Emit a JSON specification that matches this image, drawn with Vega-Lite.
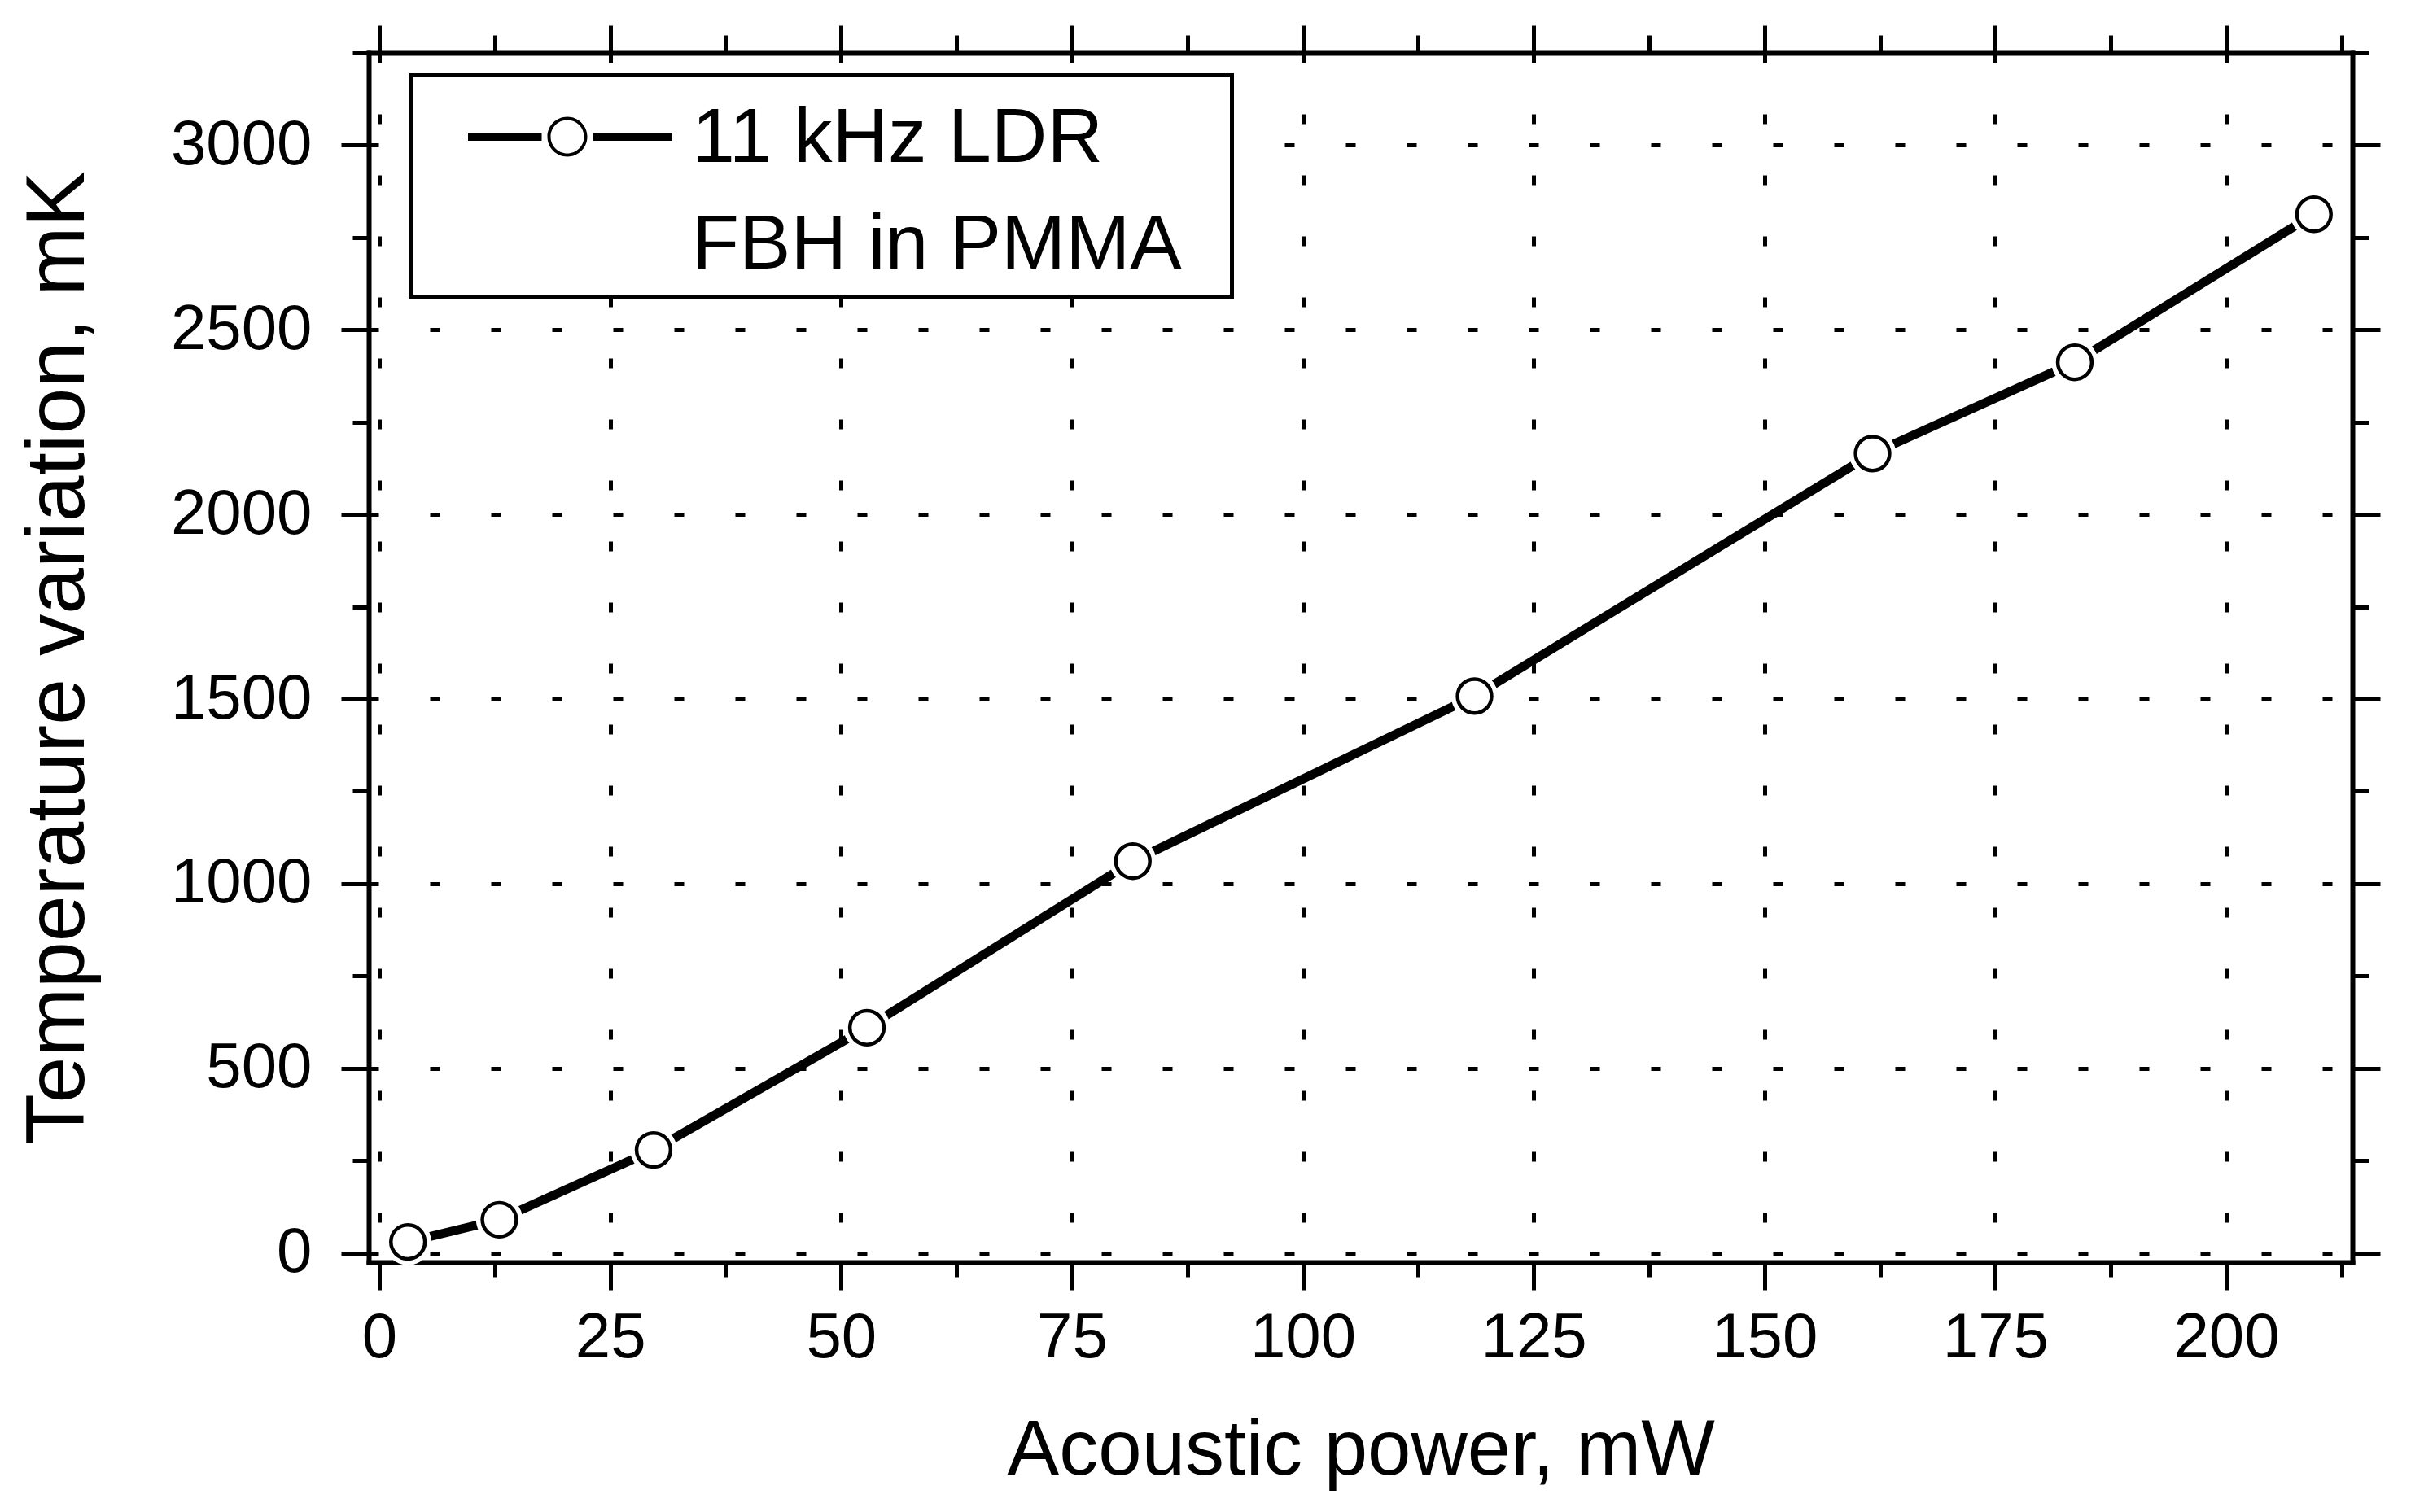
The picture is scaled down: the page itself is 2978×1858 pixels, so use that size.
{
  "$schema": "https://vega.github.io/schema/vega-lite/v6.json",
  "width": 2437,
  "height": 1486,
  "autosize": {"type": "none"},
  "padding": {"left": 453, "top": 65, "right": 88, "bottom": 307},
  "background": "white",
  "config": {
    "view": {"stroke": null},
    "axis": {
      "domainColor": "black", "domainWidth": 6, "domainCap": "square",
      "tickColor": "black", "tickWidth": 5,
      "labelFont": "Liberation Sans", "labelFontSize": 78, "labelColor": "black",
      "labelFlush": false, "labelOverlap": false,
      "titleFont": "Liberation Sans", "titleColor": "black", "titleFontWeight": "normal",
      "gridColor": "black", "gridWidth": 5, "gridDash": [12, 63],
      "zindex": 1
    }
  },
  "data": {
    "values": [
      {"power": 3.1, "temp": 30, "series": "11 kHz LDR"},
      {"power": 13.0, "temp": 90, "series": "11 kHz LDR"},
      {"power": 29.7, "temp": 279, "series": "11 kHz LDR"},
      {"power": 52.8, "temp": 610, "series": "11 kHz LDR"},
      {"power": 81.6, "temp": 1061, "series": "11 kHz LDR"},
      {"power": 118.6, "temp": 1508, "series": "11 kHz LDR"},
      {"power": 161.7, "temp": 2165, "series": "11 kHz LDR"},
      {"power": 183.6, "temp": 2412, "series": "11 kHz LDR"},
      {"power": 209.5, "temp": 2813, "series": "11 kHz LDR"}
    ]
  },
  "layer": [
    {
      "mark": {"type": "line", "strokeWidth": 11},
      "encoding": {
        "x": {
          "field": "power", "type": "quantitative",
          "scale": {"domain": [-1.146, 213.66], "nice": false, "zero": false},
          "axis": {
            "orient": "bottom",
            "values": [0, 12.5, 25, 37.5, 50, 62.5, 75, 87.5, 100, 112.5, 125, 137.5, 150, 162.5, 175, 187.5, 200, 212.5],
            "format": "d",
            "labelExpr": "datum.value % 25 === 0 ? datum.label : ''",
            "tickSize": {"condition": {"test": "datum.value % 25 !== 0", "value": 18}, "value": 34},
            "grid": true,
            "gridOpacity": {"condition": {"test": "datum.value % 25 !== 0", "value": 0}, "value": 1},
            "labelPadding": 20,
            "title": "Acoustic power, mW", "titleFontSize": 96, "titlePadding": 52
          }
        },
        "y": {
          "field": "temp", "type": "quantitative",
          "scale": {"domain": [-25, 3250], "nice": false, "zero": false},
          "axis": {
            "orient": "left",
            "values": [0, 250, 500, 750, 1000, 1250, 1500, 1750, 2000, 2250, 2500, 2750, 3000, 3250],
            "format": "d",
            "labelExpr": "datum.value % 500 === 0 ? datum.label : ''",
            "tickSize": {"condition": {"test": "datum.value % 500 !== 0", "value": 20}, "value": 34},
            "grid": true,
            "gridOpacity": {"condition": {"test": "datum.value % 500 !== 0", "value": 0}, "value": 1},
            "labelPadding": 36,
            "title": "Temperature variation, mK", "titleFontSize": 102, "titlePadding": 130
          }
        },
        "color": {
          "field": "series", "type": "nominal",
          "scale": {"range": ["black"]},
          "legend": {
            "orient": "none", "legendX": 52.5, "legendY": 27.5,
            "title": null, "padding": 0, "zindex": 2,
            "strokeColor": "black", "fillColor": "white",
            "symbolType": "M-1,-1M12.006,2.4968M-0.1032,-0.0903L1.0645,-0.0903L1.0645,0.0387L-0.1032,0.0387ZM1.8774,-0.0903L3.1355,-0.0903L3.1355,0.0387L1.8774,0.0387ZM1.7871,-0.0258A0.3161,0.3161,0,1,0,1.1549,-0.0258A0.3161,0.3161,0,1,0,1.7871,-0.0258ZM1.7355,-0.0258A0.2645,0.2645,0,1,1,1.2065,-0.0258A0.2645,0.2645,0,1,1,1.7355,-0.0258Z",
            "symbolSize": 24025,
            "symbolFillColor": "black", "symbolStrokeWidth": 0,
            "labelFont": "Liberation Sans", "labelFontSize": 95, "labelColor": "black",
            "labelLimit": 3000, "labelOffset": 189.5,
            "labelExpr": "['11 kHz LDR', 'FBH in PMMA']",
            "encode": {
              "legend": {"update": {"stroke": {"value": "black"}, "strokeWidth": {"value": 5}, "fill": {"value": "white"}}},
              "symbols": {"update": {"fill": {"value": "black"}, "stroke": {"value": "transparent"}, "strokeWidth": {"value": 0}, "size": {"value": 24025}}},
              "labels": {"update": {"lineHeight": {"value": 131}}}
            }
          }
        }
      }
    },
    {
      "mark": {"type": "point", "shape": "circle", "filled": true, "color": "white", "opacity": 1, "size": 3300, "strokeWidth": 0},
      "encoding": {
        "x": {
          "field": "power", "type": "quantitative",
          "scale": {"domain": [-1.146, 213.66], "nice": false, "zero": false},
          "axis": {
            "orient": "top",
            "values": [0, 12.5, 25, 37.5, 50, 62.5, 75, 87.5, 100, 112.5, 125, 137.5, 150, 162.5, 175, 187.5, 200, 212.5],
            "labels": false, "grid": false, "title": null,
            "tickSize": {"condition": {"test": "datum.value % 25 !== 0", "value": 22}, "value": 34}
          }
        },
        "y": {
          "field": "temp", "type": "quantitative",
          "scale": {"domain": [-25, 3250], "nice": false, "zero": false},
          "axis": {
            "orient": "right",
            "values": [0, 250, 500, 750, 1000, 1250, 1500, 1750, 2000, 2250, 2500, 2750, 3000, 3250],
            "labels": false, "grid": false, "title": null,
            "tickSize": {"condition": {"test": "datum.value % 500 !== 0", "value": 20}, "value": 34}
          }
        }
      }
    },
    {
      "mark": {"type": "point", "shape": "circle", "filled": false, "fill": "white", "stroke": "black", "strokeWidth": 4.5, "size": 1750, "opacity": 1},
      "encoding": {
        "x": {"field": "power", "type": "quantitative", "scale": {"domain": [-1.146, 213.66], "nice": false, "zero": false}, "axis": null},
        "y": {"field": "temp", "type": "quantitative", "scale": {"domain": [-25, 3250], "nice": false, "zero": false}, "axis": null}
      }
    }
  ],
  "resolve": {"axis": {"x": "independent", "y": "independent"}}
}
